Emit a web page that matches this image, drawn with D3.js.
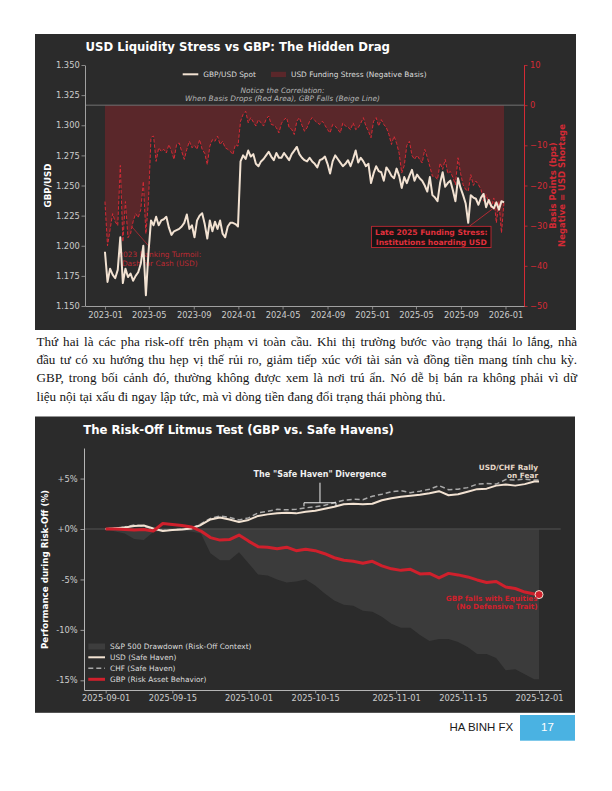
<!DOCTYPE html>
<html lang="vi">
<head>
<meta charset="utf-8">
<title>GBP risk charts</title>
<script src="https://cdn.jsdelivr.net/npm/d3@7"></script>
<style>
html,body{margin:0;padding:0;background:#ffffff;}
svg{display:block;}
</style>
</head>
<body>
<svg id="page" width="612" height="791" xmlns="http://www.w3.org/2000/svg"></svg>
<script>
// ================= DATA =================
// Chart 1: weekly observations starting 2023-01-01
const liquidityStart = "2023-01-01";
const gbpSpot = [
  1.195,1.170,1.181,1.176,1.173,1.180,1.207,1.169,1.181,1.174,1.177,1.171,1.175,1.178,1.185,1.200,1.159,1.194,
  1.221,1.217,1.224,1.217,1.221,1.222,1.224,1.215,1.209,1.212,1.213,1.214,1.216,1.219,1.226,1.214,1.217,1.207,1.221,1.225,
  1.227,1.218,1.206,1.221,1.212,1.220,1.214,1.221,1.210,1.207,1.216,1.219,1.219,1.218,1.216,
  1.270,1.275,1.272,1.279,1.274,1.276,1.268,1.266,1.270,1.272,1.275,1.278,1.274,1.271,1.277,1.273,1.273,1.277,1.274,1.271,
  1.276,1.279,1.282,1.276,1.273,1.271,1.270,1.273,1.270,1.268,1.265,1.271,1.272,1.274,1.268,1.260,1.270,1.275,1.272,1.269,
  1.266,1.268,1.271,1.266,1.272,1.279,1.269,1.273,1.270,1.266,1.268,1.252,
  1.260,1.266,1.262,1.261,1.254,1.265,1.262,1.258,1.256,1.264,1.258,1.248,1.257,1.252,1.258,1.263,1.254,1.259,1.256,1.254,
  1.250,1.245,1.257,1.242,1.240,1.237,1.252,1.261,1.249,1.252,1.254,1.246,1.237,1.256,1.248,1.242,1.235,1.219,1.242,1.240,
  1.239,1.234,1.240,1.243,1.232,1.238,1.233,1.231,1.236,1.230,1.237,1.236
];
const fundingBasis = [
  -24,-35,-31,-27,-29,-30,-15,-34,-24,-33,-32,-29,-27,-28,-26,-19,-32,-24,
  -8,-7.7,-14,-10.6,-11.5,-11,-11.9,-9.8,-11.5,-13.5,-9.8,-9.4,-11.5,-13.5,-11,-9,-10.6,-10,-11,-8.6,
  -11,-12,-14.8,-10.2,-8.6,-9,-7.7,-9.8,-9,-10.6,-11,-11.5,-12.3,-9.8,-10.2,
  -4,-2.3,-1.5,-4.4,-3.1,-4.2,-5.2,-3.6,-4.4,-5.2,-3.5,-2.7,-4.8,-5.0,-5.6,-6.9,-4.5,-3.6,-3.1,-5.6,
  -6.0,-7.3,-4.0,-3.1,-5.0,-6.5,-5.6,-4.0,-3.1,-3.8,-4.4,-4.8,-4.0,-5.0,-6.1,-6.9,-4.8,-5.2,-6.0,-6.9,
  -4.4,-5.2,-5.5,-6.1,-4.4,-6.1,-5.6,-4.5,-3.1,-5.2,-6.5,-8.1,
  -4,-3.1,-5.2,-3.6,-4.8,-5.6,-7.3,-9.8,-7.7,-9.5,-12,-16.9,-15,-10,-9,-12.5,-13.5,-12.5,-13.5,-14.4,
  -11,-13,-15.3,-17.7,-17.7,-18.5,-14.4,-16,-13.5,-17,-16.5,-18,-19.8,-13.1,-17,-19.8,-21,-21.4,-17.3,-20,
  -18.9,-19.8,-21,-23.9,-22.3,-24.3,-25.6,-23.1,-29.3,-24,-31.8,-24
];
const liquidityTicks = ["2023-01","2023-05","2023-09","2024-01","2024-05","2024-09","2025-01","2025-05","2025-09","2026-01"];
const spotTicks = [1.150,1.175,1.200,1.225,1.250,1.275,1.300,1.325,1.350];
const basisTicks = [-50,-40,-30,-20,-10,0,10];

// Chart 2: every 2 days from 2025-09-01, last point 2025-12-01
const riskStart = "2025-09-01";
const riskEnd = "2025-12-01";
const usdPerf = [0.00,0.08,0.15,0.30,0.35,0.05,-0.20,-0.10,-0.05,0.05,
  0.40,0.95,1.15,0.95,0.70,0.90,1.30,1.45,1.55,1.60,
  1.55,1.70,1.80,2.00,2.20,2.45,2.50,2.45,2.50,2.85,
  3.05,3.20,3.30,3.40,3.55,3.75,3.35,3.45,3.70,3.95,
  4.00,4.30,4.40,4.30,4.45,4.70,4.70];
const chfPerf = [0.00,0.10,0.20,0.40,0.30,0.00,-0.15,-0.10,0.00,0.10,
  0.50,1.05,1.30,1.15,0.90,1.10,1.60,1.75,1.95,1.90,
  1.95,2.10,2.20,2.35,2.60,2.85,2.95,2.90,3.25,3.45,
  3.70,3.80,3.60,3.75,3.95,4.30,3.90,3.95,4.10,4.45,
  4.50,4.45,4.90,4.85,4.95,4.85,4.85];
const gbpPerf = [0.00,0.00,-0.05,-0.10,-0.05,-0.20,0.55,0.45,0.35,0.20,
  -0.20,-0.85,-1.10,-1.05,-0.60,-1.20,-1.75,-1.80,-1.95,-1.80,
  -2.15,-2.00,-2.15,-2.45,-2.85,-3.10,-3.20,-3.40,-3.20,-3.65,
  -3.95,-4.10,-4.00,-4.45,-4.40,-4.85,-4.40,-4.55,-4.75,-5.05,
  -5.30,-5.20,-5.75,-5.90,-6.25,-6.45,-6.50];
const spxDrawdown = [0.00,-0.25,-0.45,-1.00,-1.10,-0.30,-0.20,-0.15,-0.20,-0.25,
  -0.45,-2.40,-3.10,-3.10,-2.30,-3.40,-4.50,-4.60,-5.00,-5.30,
  -5.20,-5.00,-5.60,-6.40,-7.10,-7.50,-7.60,-8.10,-8.20,-8.70,
  -9.40,-9.80,-9.80,-10.50,-11.10,-10.90,-10.90,-11.20,-11.70,-12.40,
  -12.40,-12.80,-14.00,-13.90,-14.40,-14.90,-14.90];
const riskTicks = ["2025-09-01","2025-09-15","2025-10-01","2025-10-15","2025-11-01","2025-11-15","2025-12-01"];
const perfTicks = [5,0,-5,-10,-15];

const paragraphLines = [
  "Thứ hai là các pha risk-off trên phạm vi toàn cầu. Khi thị trường bước vào trạng thái lo lắng, nhà",
  "đầu tư có xu hướng thu hẹp vị thế rủi ro, giảm tiếp xúc với tài sản và đồng tiền mang tính chu kỳ.",
  "GBP, trong bối cảnh đó, thường không được xem là nơi trú ẩn. Nó dễ bị bán ra không phải vì dữ",
  "liệu nội tại xấu đi ngay lập tức, mà vì dòng tiền đang đổi trạng thái phòng thủ."
];

// ================= STYLE =================
const F = "DejaVu Sans, sans-serif";
const BG = "#2b2b2b", RED = "#d42a35", BEIGE = "#f2e2d2", TICKC = "#cccccc", SPINE = "#a0a0a0";
const FILLRED = "rgb(200,30,40)";
const parseDay = d3.timeParse("%Y-%m-%d"), parseMonth = d3.timeParse("%Y-%m");
function padded(dates){ const [a,b]=d3.extent(dates); const s=b-a; return [new Date(+a-0.05*s), new Date(+b+0.05*s)]; }
function styleAxis(g, color, labelColor, size){
  g.attr("font-family", F).attr("font-size", size);
  g.select(".domain").attr("stroke", color).attr("stroke-width", 1);
  g.selectAll(".tick line").attr("stroke", color).attr("stroke-width", 0.8);
  g.selectAll(".tick text").attr("fill", labelColor);
}
function multiText(parent, x, y, lines, lh, attrs){
  const t = parent.append("text").attr("x", x).attr("y", y).attr("font-family", F);
  Object.entries(attrs).forEach(([k,v])=>t.attr(k,v));
  lines.forEach((l,i)=>t.append("tspan").attr("x", x).attr("dy", i===0?0:lh).text(l));
  return t;
}

const svg = d3.select("#page");
svg.append("rect").attr("width",612).attr("height",791).attr("fill","#ffffff");

// ================= CHART 1 =================
const c1 = svg.append("g");
c1.append("rect").attr("x",35).attr("y",34).attr("width",541).attr("height",296).attr("fill",BG);

const liqDates = gbpSpot.map((_,i)=>d3.timeWeek.offset(parseDay(liquidityStart), i));
const liq = liqDates.map((d,i)=>({date:d, spot:gbpSpot[i], basis:fundingBasis[i]}));
const x1 = d3.scaleTime().domain(padded(liqDates)).range([85,524]);
const yL = d3.scaleLinear().domain([1.15,1.35]).range([306,65]);
const yR = d3.scaleLinear().domain([-50,10]).range([306,65]);

c1.append("path").datum(liq)
  .attr("d", d3.area().x(d=>x1(d.date)).y0(yR(0)).y1(d=>yR(d.basis)))
  .attr("fill", FILLRED).attr("fill-opacity", 0.3);
c1.append("line").attr("x1",x1.range()[0]).attr("x2",x1.range()[1]).attr("y1",yR(0)).attr("y2",yR(0))
  .attr("stroke","#7a7a7a").attr("stroke-width",0.9);
c1.append("path").datum(liq)
  .attr("d", d3.line().x(d=>x1(d.date)).y(d=>yR(d.basis)))
  .attr("fill","none").attr("stroke",RED).attr("stroke-width",1).attr("stroke-dasharray","3.5,1.8");

// 2023 annotation (under the spot line)
{
  const tgt = [x1(parseDay("2023-03-15")), yR(-30.2)];
  const src = [x1(parseDay("2023-05-04")), yR(-35.4)];
  c1.append("line").attr("x1",src[0]).attr("y1",src[1]).attr("x2",tgt[0]).attr("y2",tgt[1])
    .attr("stroke",RED).attr("stroke-width",0.8).attr("opacity",0.85);
  multiText(c1, x1(parseDay("2023-05-31")), yR(-37.8), ["2023 Banking Turmoil:","Dash for Cash (USD)"], 9.4,
    {"text-anchor":"middle","font-size":7.4,"fill":RED,"opacity":0.85});
}

c1.append("path").datum(liq)
  .attr("d", d3.line().x(d=>x1(d.date)).y(d=>yL(d.spot)))
  .attr("fill","none").attr("stroke",BEIGE).attr("stroke-width",2).attr("stroke-linejoin","round");

// axes
const a1L = c1.append("g").attr("transform","translate(85,0)")
  .call(d3.axisLeft(yL).tickValues(spotTicks).tickFormat(d3.format(".3f")).tickSize(3.5).tickPadding(1.8).tickSizeOuter(0));
styleAxis(a1L, SPINE, TICKC, 8.3);
const a1R = c1.append("g").attr("transform","translate(524,0)")
  .call(d3.axisRight(yR).tickValues(basisTicks).tickFormat(d=>d<0?"\u2212"+(-d):String(d)).tickSize(3.5).tickPadding(2.5).tickSizeOuter(0));
styleAxis(a1R, RED, RED, 8.3);
const a1B = c1.append("g").attr("transform","translate(0,306)")
  .call(d3.axisBottom(x1).tickValues(liquidityTicks.map(parseMonth)).tickFormat(d3.timeFormat("%Y-%m")).tickSize(3.5).tickPadding(2.3).tickSizeOuter(0));
styleAxis(a1B, SPINE, TICKC, 8.3);

// title
c1.append("text").attr("x",85.5).attr("y",50.5).attr("font-family",F).attr("font-weight","bold")
  .attr("font-size",11.7).attr("fill","#ffffff").text("USD Liquidity Stress vs GBP: The Hidden Drag");

// legend
c1.append("line").attr("x1",182.7).attr("x2",198.3).attr("y1",74.3).attr("y2",74.3).attr("stroke",BEIGE).attr("stroke-width",2);
c1.append("text").attr("x",203.3).attr("y",77).attr("font-family",F).attr("font-size",7.4).attr("fill","#dddddd").text("GBP/USD Spot");
c1.append("rect").attr("x",271).attr("y",71.8).attr("width",15).attr("height",5.3).attr("fill",FILLRED).attr("fill-opacity",0.3);
c1.append("text").attr("x",291).attr("y",77).attr("font-family",F).attr("font-size",7.4).attr("fill","#dddddd").text("USD Funding Stress (Negative Basis)");

// notice
multiText(c1, 282.5, 92.7, ["Notice the Correlation:","When Basis Drops (Red Area), GBP Falls (Beige Line)"], 8,
  {"text-anchor":"middle","font-size":7.4,"font-style":"italic","fill":"#b5b5b5"});

// axis labels
c1.append("text").attr("transform","translate(50.5,185.5) rotate(-90)").attr("text-anchor","middle")
  .attr("font-family",F).attr("font-weight","bold").attr("font-size",8.7).attr("fill","#ffffff").text("GBP/USD");
c1.append("text").attr("transform","translate(556.3,185.5) rotate(-90)").attr("text-anchor","middle")
  .attr("font-family",F).attr("font-weight","bold").attr("font-size",8.5).attr("fill",RED).text("Basis Points (bps)");
c1.append("text").attr("transform","translate(565.3,185.5) rotate(-90)").attr("text-anchor","middle")
  .attr("font-family",F).attr("font-weight","bold").attr("font-size",8.5).attr("fill",RED).text("Negative = USD Shortage");

// late 2025 annotation
{
  const tgt = [x1(parseDay("2025-11-27")), yR(-25.8)];
  const cx = x1(parseDay("2025-06-12")), by = yR(-32.4);
  const grp = c1.append("g");
  const box = grp.append("rect");
  const t = multiText(grp, cx, by, ["Late 2025 Funding Stress:","Institutions hoarding USD"], 9.3,
    {"text-anchor":"middle","font-size":7.6,"font-weight":"bold","fill":"#e0303c"});
  const bb = t.node().getBBox();
  box.attr("x",bb.x-3.5).attr("y",bb.y-2).attr("width",bb.width+7).attr("height",bb.height+3)
    .attr("fill","#171515").attr("stroke",RED).attr("stroke-width",0.8);
  grp.insert("line","rect").attr("x1",cx+38).attr("y1",bb.y-2).attr("x2",tgt[0]).attr("y2",tgt[1])
    .attr("stroke",RED).attr("stroke-width",0.8);
}

// ================= PARAGRAPH =================
paragraphLines.forEach((line,i)=>{
  const t = svg.append("text").attr("x",36.5).attr("y",345.5+i*18.4)
    .attr("font-family","Liberation Serif, 'Times New Roman', serif").attr("font-size",13.1).attr("fill","#141414").text(line);
  if (i < paragraphLines.length-1){
    const w = t.node().getComputedTextLength();
    const n = (line.match(/ /g)||[]).length;
    t.attr("word-spacing", (577-36.5-w)/n);
  }
});

// ================= CHART 2 =================
const c2 = svg.append("g");
c2.append("rect").attr("x",35).attr("y",416.5).attr("width",540).attr("height",296.3).attr("fill",BG);

const rs = parseDay(riskStart), re = parseDay(riskEnd);
const riskDates = usdPerf.map((_,i)=> i < usdPerf.length-1 ? d3.timeDay.offset(rs, 2*i) : re);
const risk = riskDates.map((d,i)=>({date:d, usd:usdPerf[i], chf:chfPerf[i], gbp:gbpPerf[i], spx:spxDrawdown[i]}));
const x2 = d3.scaleTime().domain(padded(riskDates)).range([84,560.7]);
const y2 = d3.scaleLinear().domain([-15.96,8.03]).range([690,448]);

c2.append("path").datum(risk).attr("d", d3.area().x(d=>x2(d.date)).y0(y2(0)).y1(d=>y2(d.spx)))
  .attr("fill","#3b3b3b");
c2.append("line").attr("x1",x2.range()[0]).attr("x2",x2.range()[1]).attr("y1",y2(0)).attr("y2",y2(0))
  .attr("stroke","#474747").attr("stroke-width",1.5);
c2.append("path").datum(risk).attr("d", d3.line().x(d=>x2(d.date)).y(d=>y2(d.chf)))
  .attr("fill","none").attr("stroke","#a9a9a9").attr("stroke-width",1.5).attr("stroke-dasharray","5,3");
c2.append("path").datum(risk).attr("d", d3.line().x(d=>x2(d.date)).y(d=>y2(d.usd)))
  .attr("fill","none").attr("stroke",BEIGE).attr("stroke-width",2).attr("stroke-linejoin","round");
c2.append("path").datum(risk).attr("d", d3.line().x(d=>x2(d.date)).y(d=>y2(d.gbp)))
  .attr("fill","none").attr("stroke","#d0202c").attr("stroke-width",3).attr("stroke-linejoin","round");
const last = risk[risk.length-1];
c2.append("circle").attr("cx",x2(last.date)).attr("cy",y2(last.gbp)).attr("r",4)
  .attr("fill","#d0202c").attr("stroke","#f2e2d2").attr("stroke-width",1);

const a2L = c2.append("g").attr("transform","translate(84,0)")
  .call(d3.axisLeft(y2).tickValues(perfTicks).tickFormat(d=>(d>=0?"+":"-")+Math.abs(d)+"%").tickSize(3.5).tickPadding(2.8).tickSizeOuter(0));
styleAxis(a2L, "#b5b5b5", TICKC, 8.3);
const a2B = c2.append("g").attr("transform","translate(0,690)")
  .call(d3.axisBottom(x2).tickValues(riskTicks.map(parseDay)).tickFormat(d3.timeFormat("%Y-%m-%d")).tickSize(3.5).tickPadding(1.8).tickSizeOuter(0));
styleAxis(a2B, "#b5b5b5", TICKC, 8.3);

c2.append("text").attr("x",83.3).attr("y",434).attr("font-family",F).attr("font-weight","bold")
  .attr("font-size",11.7).attr("fill","#ffffff").text("The Risk-Off Litmus Test (GBP vs. Safe Havens)");

c2.append("text").attr("transform","translate(48.3,569.5) rotate(-90)").attr("text-anchor","middle")
  .attr("font-family",F).attr("font-weight","bold").attr("font-size",8.7).attr("fill","#ffffff").text("Performance during Risk-Off (%)");

// divergence bracket annotation
{
  const bx = x2(parseDay("2025-10-16")), byy = y2(2.6);
  c2.append("text").attr("x",bx).attr("y",477.3).attr("text-anchor","middle").attr("font-family",F)
    .attr("font-weight","bold").attr("font-size",8).attr("fill","#f0f0f0").text("The \"Safe Haven\" Divergence");
  c2.append("path").attr("d",`M${bx},482.7V${byy}M${bx-16},${byy+3.5}V${byy}H${bx+16}V${byy+3.5}`)
    .attr("fill","none").attr("stroke","#eeeeee").attr("stroke-width",1);
}
multiText(c2, x2(re)-1, 470, ["USD/CHF Rally","on Fear"], 8.2,
  {"text-anchor":"end","font-size":7.3,"font-weight":"bold","fill":"#e6d8c8"});
multiText(c2, x2(re)-1.5, 600.5, ["GBP falls with Equities","(No Defensive Trait)"], 8.3,
  {"text-anchor":"end","font-size":7.2,"font-weight":"bold","fill":"#d0202c"});

// legend
{
  const lx = 88.3, lw = 16.7;
  c2.append("rect").attr("x",lx).attr("y",643.5).attr("width",lw).attr("height",6).attr("fill","#3d3d3d");
  c2.append("line").attr("x1",lx).attr("x2",lx+lw).attr("y1",657.3).attr("y2",657.3).attr("stroke",BEIGE).attr("stroke-width",2);
  c2.append("line").attr("x1",lx).attr("x2",lx+lw).attr("y1",668.3).attr("y2",668.3).attr("stroke","#a9a9a9").attr("stroke-width",1.5).attr("stroke-dasharray","5,3");
  c2.append("line").attr("x1",lx).attr("x2",lx+lw).attr("y1",679.3).attr("y2",679.3).attr("stroke","#d0202c").attr("stroke-width",3);
  ["S&P 500 Drawdown (Risk-Off Context)","USD (Safe Haven)","CHF (Safe Haven)","GBP (Risk Asset Behavior)"].forEach((s,i)=>{
    c2.append("text").attr("x",110).attr("y",649.3+i*11).attr("font-family",F).attr("font-size",7.4).attr("fill","#dddddd").text(s);
  });
}

// ================= FOOTER =================
svg.append("text").attr("x",513.3).attr("y",730.7).attr("text-anchor","end")
  .attr("font-family","Liberation Sans, Arial, sans-serif").attr("font-size",11.5).attr("fill","#1a1a1a").text("HA BINH FX");
svg.append("rect").attr("x",520).attr("y",715).attr("width",55).attr("height",25.7).attr("fill","#4ab2e2");
svg.append("text").attr("x",547.5).attr("y",730.7).attr("text-anchor","middle")
  .attr("font-family","Liberation Sans, Arial, sans-serif").attr("font-size",11.5).attr("fill","#ffffff").text("17");
</script>
</body>
</html>
